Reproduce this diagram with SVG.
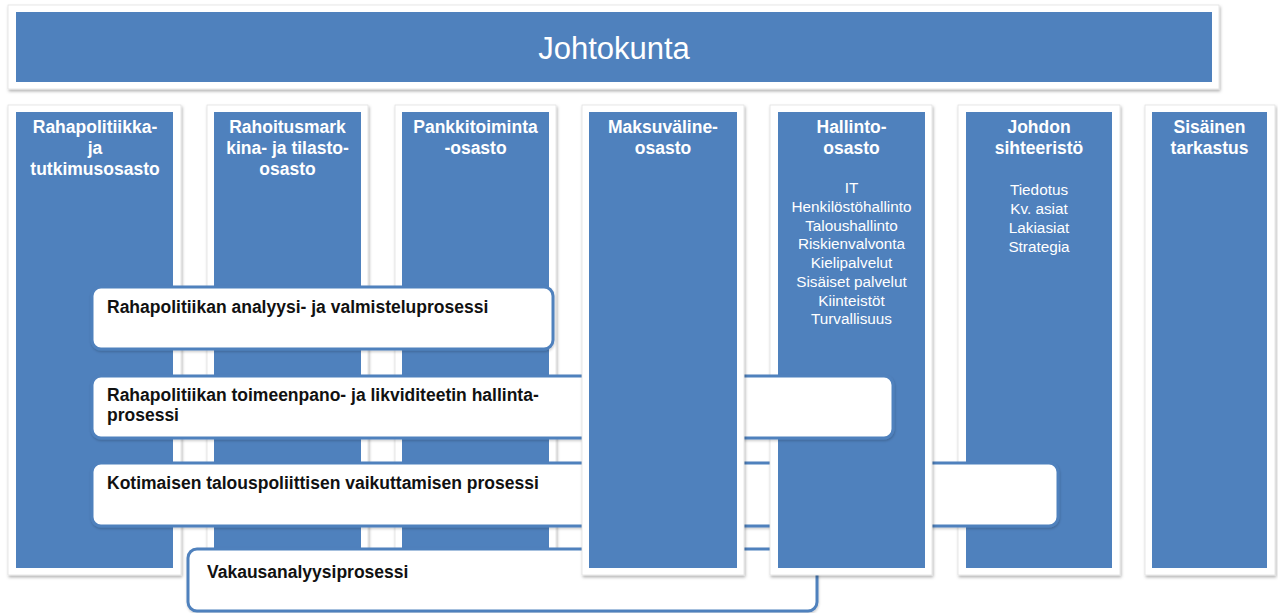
<svg xmlns="http://www.w3.org/2000/svg" width="1278" height="613" viewBox="0 0 1278 613">
<defs>
<filter id="sh" x="-10%" y="-10%" width="120%" height="120%">
<feDropShadow dx="1" dy="2" stdDeviation="1.8" flood-color="#000" flood-opacity="0.3"/>
</filter>
<filter id="sh2" x="-10%" y="-10%" width="120%" height="130%">
<feDropShadow dx="0.5" dy="1.5" stdDeviation="1.2" flood-color="#000" flood-opacity="0.2"/>
</filter>
</defs>
<style>
.frame{fill:#ffffff;stroke:#e2e2e2;stroke-width:0.8;filter:url(#sh)}
.blue{fill:#4f81bd}
.hd{font-family:"Liberation Sans",Arial,sans-serif;font-weight:bold;font-size:17.5px;fill:#ffffff;text-anchor:middle}
.it{font-family:"Liberation Sans",Arial,sans-serif;font-size:15.3px;fill:#ffffff;text-anchor:middle}
.proc{fill:#ffffff;stroke:#4f81bd;stroke-width:3;filter:url(#sh2)}
.pt{font-family:"Liberation Sans",Arial,sans-serif;font-weight:bold;font-size:17.5px;fill:#111111}
.title{font-family:"Liberation Sans",Arial,sans-serif;font-size:31px;fill:#ffffff;text-anchor:middle}
</style>
<rect width="1278" height="613" fill="#ffffff"/>

<g id="johtokunta">
<rect class="frame" x="8" y="5" width="1211" height="84"/>
<rect class="blue" x="16" y="12" width="1196" height="70"/>
<text class="title" x="614" y="59">Johtokunta</text>
</g>

<g id="col-rahapolitiikka">
<rect class="frame" x="8" y="105" width="173" height="470"/>
<rect class="blue" x="16" y="112" width="157" height="456"/>
<text class="hd" x="95" y="133">Rahapolitiikka-</text>
<text class="hd" x="95" y="154">ja</text>
<text class="hd" x="95" y="175">tutkimusosasto</text>
</g>

<g id="col-rahoitusmarkkina">
<rect class="frame" x="207" y="105" width="161" height="470"/>
<rect class="blue" x="214" y="112" width="147" height="456"/>
<text class="hd" x="287.5" y="133">Rahoitusmark</text>
<text class="hd" x="287.5" y="154">kina- ja tilasto-</text>
<text class="hd" x="287.5" y="175">osasto</text>
</g>

<g id="col-pankkitoiminta">
<rect class="frame" x="395" y="105" width="161" height="470"/>
<rect class="blue" x="402" y="112" width="147" height="456"/>
<text class="hd" x="475.5" y="133">Pankkitoiminta</text>
<text class="hd" x="475.5" y="154">-osasto</text>
</g>

<g id="col-johdon">
<rect class="frame" x="958" y="105" width="162" height="470"/>
<rect class="blue" x="966" y="112" width="146" height="456"/>
<text class="hd" x="1039" y="133">Johdon</text>
<text class="hd" x="1039" y="154">sihteeristö</text>
<text class="it" x="1039" y="195">Tiedotus</text>
<text class="it" x="1039" y="214">Kv. asiat</text>
<text class="it" x="1039" y="233">Lakiasiat</text>
<text class="it" x="1039" y="252">Strategia</text>
</g>

<g id="col-sisainen">
<rect class="frame" x="1145" y="105" width="130" height="470"/>
<rect class="blue" x="1152" y="112" width="115" height="456"/>
<text class="hd" x="1209.5" y="133">Sisäinen</text>
<text class="hd" x="1209.5" y="154">tarkastus</text>
</g>

<g id="proc-kotimaisen">
<rect class="proc" x="92" y="463" width="966" height="63" rx="9"/>
<text class="pt" x="107" y="489">Kotimaisen talouspoliittisen vaikuttamisen prosessi</text>
</g>

<g id="proc-vakaus">
<rect class="proc" x="188" y="549" width="629" height="62" rx="9"/>
<text class="pt" x="207" y="578">Vakausanalyysiprosessi</text>
</g>

<g id="col-hallinto">
<rect class="frame" x="770" y="105" width="162" height="470"/>
<rect class="blue" x="778" y="112" width="147" height="456"/>
<text class="hd" x="851.5" y="133">Hallinto-</text>
<text class="hd" x="851.5" y="154">osasto</text>
<text class="it" x="851.5" y="193">IT</text>
<text class="it" x="851.5" y="212">Henkilöstöhallinto</text>
<text class="it" x="851.5" y="230.5">Taloushallinto</text>
<text class="it" x="851.5" y="249">Riskienvalvonta</text>
<text class="it" x="851.5" y="268">Kielipalvelut</text>
<text class="it" x="851.5" y="287">Sisäiset palvelut</text>
<text class="it" x="851.5" y="305.5">Kiinteistöt</text>
<text class="it" x="851.5" y="324">Turvallisuus</text>
</g>

<g id="proc-analyysi">
<rect class="proc" x="92" y="287" width="461" height="62" rx="9"/>
<text class="pt" x="107" y="313">Rahapolitiikan analyysi- ja valmisteluprosessi</text>
</g>

<g id="proc-toimeenpano">
<rect class="proc" x="92" y="376" width="801" height="62" rx="9"/>
<text class="pt" x="107" y="401">Rahapolitiikan toimeenpano- ja likviditeetin hallinta-</text>
<text class="pt" x="107" y="421">prosessi</text>
</g>

<g id="col-maksuvaline">
<rect class="frame" x="582" y="105" width="162" height="470"/>
<rect class="blue" x="589" y="112" width="148" height="456"/>
<text class="hd" x="663" y="133">Maksuväline-</text>
<text class="hd" x="663" y="154">osasto</text>
</g>

<g id="connectors"></g>
</svg>
